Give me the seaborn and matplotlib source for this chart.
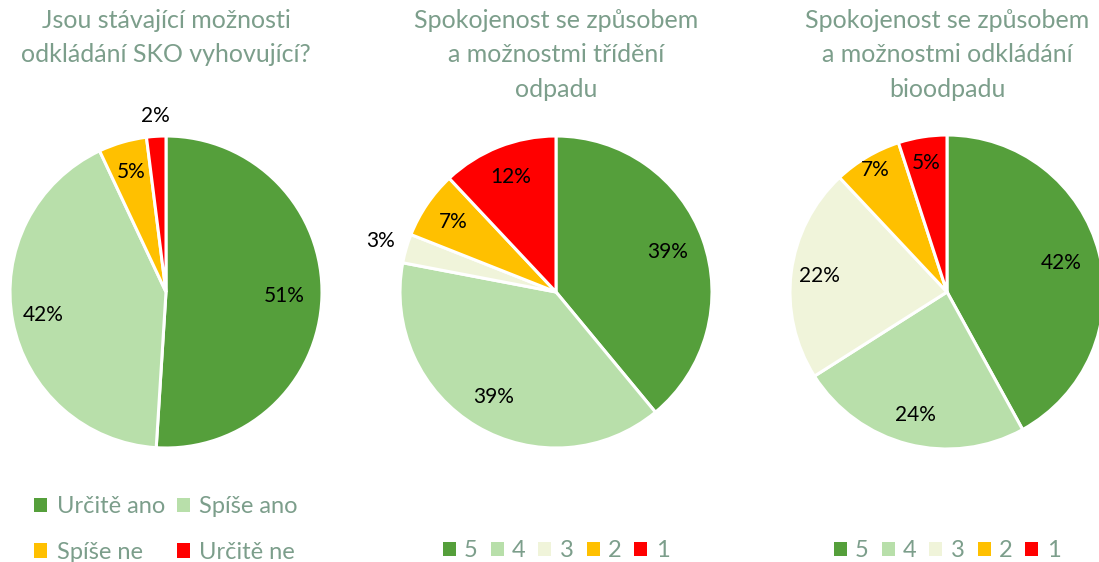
import numpy as np
import matplotlib
matplotlib.use('Agg')
import matplotlib.pyplot as plt
import seaborn as sns

titles = [
    'Jsou stávající možnosti\nodkládání SKO vyhovující?',
    'Spokojenost se způsobem\na možnostmi třídění\nodpadu',
    'Spokojenost se způsobem\na možnostmi odkládání\nbioodpadu',
]

labels_sko = ['Určitě ano', 'Spíše ano', 'Spíše ne', 'Určitě ne']
values_sko = [51, 42, 5, 2]

labels_scale = ['5', '4', '3', '2', '1']
values_trideni = [39, 39, 3, 7, 12]
values_bio = [42, 24, 22, 7, 5]

colors_sko = ['#559f3b', '#b8dfaa', '#ffc000', '#ff0000']
colors_scale = ['#559f3b', '#b8dfaa', '#f0f4da', '#ffc000', '#ff0000']

# label distance from centre per wedge (fraction of radius)
label_dist = [
    [0.76, 0.80, 0.80, 1.13],
    [0.76, 0.78, 1.17, 0.80, 0.79],
    [0.75, 0.81, 0.82, 0.90, 0.83],
]

sns.set_theme(style='white')
plt.rcParams['font.family'] = ['Lato', 'DejaVu Sans']
text_col = '#7c9e8b'

W, H = 1099, 562
fig = plt.figure(figsize=(W / 100, H / 100), dpi=100)

centers = [(166, 292, 156), (556, 292, 156), (947, 292, 157)]
data = [
    (values_sko, labels_sko, colors_sko),
    (values_trideni, labels_scale, colors_scale),
    (values_bio, labels_scale, colors_scale),
]

for i, ((cx, cy, r), (vals, labs, cols)) in enumerate(zip(centers, data)):
    ax = fig.add_axes([(cx - r) / W, (H - cy - r) / H, 2 * r / W, 2 * r / H])
    wedges, _ = ax.pie(vals, colors=cols, startangle=90, counterclock=False,
                       wedgeprops=dict(edgecolor='white', linewidth=2.2))
    for w, v, d in zip(wedges, vals, label_dist[i]):
        ang = np.deg2rad((w.theta1 + w.theta2) / 2)
        ax.text(d * np.cos(ang), d * np.sin(ang), f'{v}%', ha='center', va='center',
                fontsize=15, color='black')
    ax.set_xlim(-1, 1)
    ax.set_ylim(-1, 1)
    ax.set_aspect('equal')
    ax.axis('off')
    fig.text(cx / W, 1 - 9 / H, titles[i], ha='center', va='top', fontsize=18,
             color=text_col, linespacing=1.6)
    if i == 0:
        # matplotlib fills legend column-wise, reorder to get row-wise order
        order = [0, 2, 1, 3]
        leg = ax.legend([wedges[k] for k in order], [labs[k] for k in order], ncol=2,
                        loc='upper center',
                        bbox_to_anchor=(cx / W, 1 - 496 / H), bbox_transform=fig.transFigure,
                        frameon=False, fontsize=17, handlelength=0.55, handleheight=0.55,
                        handletextpad=0.4, columnspacing=0.5, labelspacing=1.05,
                        borderaxespad=0, borderpad=0)
    else:
        leg = ax.legend(wedges, labs, ncol=5, loc='upper center',
                        bbox_to_anchor=(cx / W, 1 - 540 / H), bbox_transform=fig.transFigure,
                        frameon=False, fontsize=17, handlelength=0.55, handleheight=0.55,
                        handletextpad=0.35, columnspacing=0.55,
                        borderaxespad=0, borderpad=0)
    for t in leg.get_texts():
        t.set_color(text_col)
    for h in leg.legend_handles:
        h.set_edgecolor('none')

fig.savefig('out.png', dpi=100)
